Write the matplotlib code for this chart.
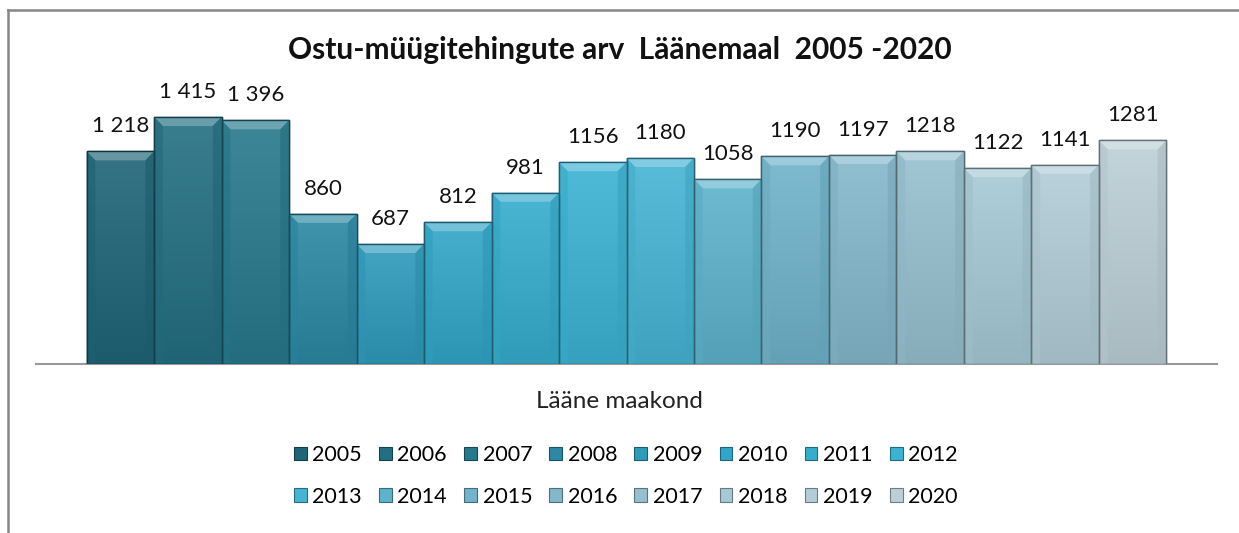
import matplotlib
matplotlib.use("Agg")
import matplotlib.pyplot as plt
import numpy as np
from matplotlib.patches import Rectangle, Polygon, Patch
from matplotlib.lines import Line2D
from matplotlib.colors import to_rgb

# ---------------- data ----------------
years = [str(y) for y in range(2005, 2021)]
values = [1218, 1415, 1396, 860, 687, 812, 981, 1156,
          1180, 1058, 1190, 1197, 1218, 1122, 1141, 1281]
value_labels = ["1 218", "1 415", "1 396", "860", "687", "812", "981", "1156",
                "1180", "1058", "1190", "1197", "1218", "1122", "1141", "1281"]
bar_colors = ["#1f6578", "#236f82", "#27798d", "#2b89a4", "#2f9bbb", "#32a6c8",
              "#36adce", "#3bb3d4", "#46b4d4", "#5db3cc", "#70b3ca", "#83b8cb",
              "#96c0cf", "#a6c9d5", "#b2cdd7", "#bccfd7"]
title = "Ostu-müügitehingute arv  Läänemaal  2005 -2020"
category = "Lääne maakond"

# ---------------- style ----------------
FONT = ["Lato", "DejaVu Sans"]
plt.rcParams['font.family'] = FONT

W, H = 1239, 533
fig = plt.figure(figsize=(W / 100, H / 100), dpi=100)
fig.patch.set_facecolor("white")

# outer chart frame (left and top edges visible)
fx, fy = 7.5 / W, 1 - 10 / H
fig.add_artist(Line2D([fx, fx], [-0.01, fy], transform=fig.transFigure,
                      color="#878787", linewidth=1.8, solid_capstyle="projecting"))
fig.add_artist(Line2D([fx, 1.01], [fy, fy], transform=fig.transFigure,
                      color="#878787", linewidth=1.8, solid_capstyle="projecting"))

ymax = 1600
ax_left, ax_right = 36 / W, 1217 / W
ax_bottom = (H - 364) / H
px_per_unit = (364 - 117) / 1415
ax_height_px = ymax * px_per_unit
ax = fig.add_axes([ax_left, ax_bottom, ax_right - ax_left, ax_height_px / H])
ax.set_facecolor("none")


def mix(c, other, t):
    c = np.array(to_rgb(c)); o = np.array(to_rgb(other))
    return tuple(c * (1 - t) + o * t)


x = np.arange(len(values))
bev_x = 0.13
bev_y = 9 / px_per_unit

bars = ax.bar(x, values, width=1.0, color=bar_colors, zorder=2,
              edgecolor=[mix(c, "black", 0.45) for c in bar_colors], linewidth=1.0)

for i, (b, c) in enumerate(zip(bars, bar_colors)):
    x0 = b.get_x(); x1 = x0 + b.get_width(); v = b.get_height()
    top = mix(c, "white", 0.10)
    bot = mix(c, "black", 0.10)
    n = 64
    grad = np.array([mix(top, bot, t) for t in np.linspace(0, 1, n)]).reshape(n, 1, 3)
    im = ax.imshow(grad, extent=[x0, x1, 0, v], aspect='auto', zorder=2.1,
                   interpolation='bilinear')
    im.set_clip_path(b)
    # top bevel (highlight)
    ax.add_patch(Polygon([(x0, v), (x1, v), (x1 - bev_x, v - bev_y), (x0 + bev_x, v - bev_y)],
                         closed=True, facecolor=mix(c, "white", 0.32), edgecolor="none",
                         zorder=2.2))
    # side bevels (shade)
    ax.add_patch(Polygon([(x0, v), (x0 + bev_x, v - bev_y), (x0 + bev_x, 0), (x0, 0)],
                         closed=True, facecolor=mix(c, "black", 0.05), edgecolor="none",
                         zorder=2.2, alpha=0.6))
    ax.add_patch(Polygon([(x1, v), (x1 - bev_x, v - bev_y), (x1 - bev_x, 0), (x1, 0)],
                         closed=True, facecolor=mix(c, "black", 0.1), edgecolor="none",
                         zorder=2.2, alpha=0.6))
    # outline on top
    ax.add_patch(Rectangle((x0, 0), x1 - x0, v, fill=False,
                           edgecolor=mix(c, "black", 0.45), linewidth=1.0, zorder=2.3))
    ax.annotate(value_labels[i], (x[i], v), xytext=(0, 25), textcoords="offset pixels",
                ha="center", va="center", fontsize=16, color="#111111")

ax.set_xlim(-1.25, len(values) + 0.25)
ax.set_ylim(0, ymax)
for s in ["left", "right", "top"]:
    ax.spines[s].set_visible(False)
ax.spines["bottom"].set_color("#9a9a9a")
ax.spines["bottom"].set_linewidth(1.5)
ax.spines["bottom"].set_zorder(1)
ax.set_xticks([]); ax.set_yticks([])

fig.text(0.5, 1 - 50 / H, title, ha="center", va="center", fontsize=21.5,
         fontweight="bold", color="#111111")
fig.text(0.5, 1 - 402 / H, category, ha="center", va="center", fontsize=17.5,
         color="#222222")

# legend, filled row-wise (8 columns x 2 rows)
handles = [Patch(facecolor=c, edgecolor=mix(c, "black", 0.4), linewidth=0.8) for c in bar_colors]
order = []
for j in range(8):
    order += [j, j + 8]
leg = fig.legend([handles[k] for k in order], [years[k] for k in order], ncol=8,
                 loc="center", bbox_to_anchor=(0.505, 1 - 476 / H), frameon=False,
                 fontsize=15.5, handlelength=0.6, handleheight=0.6,
                 handletextpad=0.25, columnspacing=0.8, labelspacing=1.0)

fig.savefig("out.png", dpi=100, facecolor="white")
